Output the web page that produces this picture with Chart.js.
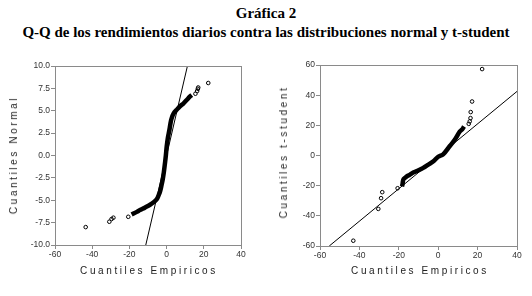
<!DOCTYPE html>
<html>
<head>
<meta charset="utf-8">
<script src="https://cdn.jsdelivr.net/npm/chart.js@4/dist/chart.umd.min.js"></script>
<style>
  html, body { margin: 0; padding: 0; background: #fff; }
  #wrap { position: relative; width: 532px; height: 296px; overflow: hidden; background: #fff; }
  canvas { position: absolute; top: 0; }
  .t { position: absolute; left: 0; width: 532px; text-align: center; font-family: "Liberation Serif", "Times New Roman", serif; font-weight: bold; color: #000; white-space: nowrap; line-height: 17px; }
  .ax { position: absolute; font-family: "Liberation Sans", Arial, sans-serif; font-size: 10px; letter-spacing: 2.6px; color: #222; white-space: nowrap; line-height: 12px; }
  .rot { transform: translate(-50%, -50%) rotate(-90deg); }
  .hor { transform: translate(-50%, -50%); }
</style>
</head>
<body>
<div id="wrap">
  <div class="t" style="top:5px;font-size:15px;">Gráfica 2</div>
  <div class="t" style="top:24px;font-size:15px;">Q-Q de los rendimientos diarios contra las distribuciones normal y t-student</div>
  <canvas id="c1" width="266" height="296" style="left:0"></canvas>
  <canvas id="c2" width="266" height="296" style="left:266px"></canvas>
  <div class="ax hor" style="left:149px;top:271px;">Cuantiles Empiricos</div>
  <div class="ax hor" style="left:420px;top:271px;">Cuantiles Empiricos</div>
  <div class="ax rot" style="left:14px;top:155px;">Cuantiles Normal</div>
  <div class="ax rot" style="left:284px;top:152px;">Cuantiles t-student</div>
</div>
<script>
// ---- Left panel: empirical quantiles vs normal quantiles ----
const normClusterX = [-18.8,-16.0,-14.3,-11.5,-8.9,-6.8,-5.3,-4.2,-3.5,-2.7,-2.1,-1.5,-0.9,-0.4,0.05,0.7,1.5,2.1,2.7,3.8,5.4,7.2,9.0,10.8,12.6,13.5];
const normClusterY = [-6.6,-6.3,-6.1,-5.8,-5.5,-5.2,-4.9,-4.4,-4.0,-3.3,-2.7,-1.9,-0.9,0.0,1.0,2.0,2.85,3.6,4.15,4.7,5.1,5.5,5.8,6.2,6.6,6.75];
const normOutX = [-43.5,-30.8,-29.6,-28.6,-20.6,15.5,16.4,16.8,17.0,22.4];
const normOutY = [-8.0,-7.4,-7.1,-6.95,-6.85,6.9,7.2,7.45,7.6,8.1];
const normRefX = [-11.2, 11.2];
const normRefY = [-10, 10];
const normYTicks = [-10, -7.5, -5, -2.5, 0, 2.5, 5, 7.5, 10];

// ---- Right panel: empirical quantiles vs t-student quantiles ----
const tClusterX = [-18.4,-18.1,-17.9,-17.5,-16.1,-14.5,-12.7,-10.0,-7.6,-5.0,-2.6,0.0,2.5,5.9,8.4,10.96,12.3,13.1];
const tClusterY = [-20.5,-19.0,-17.0,-15.5,-14.0,-12.8,-11.3,-9.8,-8.2,-6.0,-4.0,-0.8,0.8,6.3,10.4,15.9,17.5,19.2];
const tOutX = [-43.1,-30.4,-29.0,-28.4,-20.6,15.5,16.0,16.4,16.5,17.2,22.3];
const tOutY = [-56.5,-35.4,-28.3,-24.3,-21.7,21.0,22.6,24.8,28.8,35.8,57.3];
const tRefX = [-55.3, 40];
const tRefY = [-60, 42.5];
const tYTicks = [-60, -40, -20, 0, 20, 40, 60];

const xTicks = [-60, -40, -20, 0, 20, 40];

const pts = (xs, ys) => xs.map((x, i) => ({ x, y: ys[i] }));

const framePlugin = {
  id: 'frame',
  afterDraw(chart) {
    const a = chart.chartArea, ctx = chart.ctx;
    ctx.save();
    ctx.strokeStyle = '#8a8a8a';
    ctx.lineWidth = 1;
    ctx.strokeRect(Math.round(a.left) + 0.5, Math.round(a.top) + 0.5, Math.round(a.right - a.left), Math.round(a.bottom - a.top));
    ctx.restore();
  }
};

function makeChart(id, cx, cy, ox, oy, rx, ry, yMin, yMax, yTicks, yFmt, pad) {
  return new Chart(document.getElementById(id), {
    type: 'scatter',
    data: {
      datasets: [
        { data: pts(cx, cy), showLine: true, borderColor: '#000', borderWidth: 4.5, pointRadius: 0, tension: 0.4, fill: false, order: 2 },
        { data: pts(rx, ry), showLine: true, borderColor: '#000', borderWidth: 1, pointRadius: 0, fill: false, order: 1 },
        { data: pts(ox, oy), showLine: false, pointRadius: 1.8, pointBorderWidth: 1, pointBorderColor: '#000', pointBackgroundColor: 'rgba(255,255,255,0)', order: 0 }
      ]
    },
    options: {
      responsive: false,
      animation: false,
      events: [],
      layout: { padding: pad },
      plugins: { legend: { display: false }, tooltip: { enabled: false }, title: { display: false } },
      scales: {
        x: {
          type: 'linear', min: -60, max: 40,
          afterBuildTicks: s => { s.ticks = xTicks.map(v => ({ value: v })); },
          afterFit: s => { s.height = 18; },
          grid: { drawOnChartArea: false, drawTicks: true, tickLength: 4, color: '#8a8a8a' },
          border: { display: true, color: '#8a8a8a' },
          ticks: { padding: 1, color: '#333', font: { family: 'Liberation Sans, Arial, sans-serif', size: 8.5 }, maxRotation: 0, callback: v => String(v) }
        },
        y: {
          type: 'linear', min: yMin, max: yMax,
          afterBuildTicks: s => { s.ticks = yTicks.map(v => ({ value: v })); },
          afterFit: s => { s.width = 40; },
          grid: { drawOnChartArea: false, drawTicks: true, tickLength: 4, color: '#8a8a8a' },
          border: { display: true, color: '#8a8a8a' },
          ticks: { padding: 1, color: '#333', font: { family: 'Liberation Sans, Arial, sans-serif', size: 8.5 }, callback: yFmt }
        }
      }
    },
    plugins: [framePlugin]
  });
}

makeChart('c1', normClusterX, normClusterY, normOutX, normOutY, normRefX, normRefY, -10, 10, normYTicks,
  v => v.toFixed(1), { left: 15, right: 25, top: 66, bottom: 33 });
makeChart('c2', tClusterX, tClusterY, tOutX, tOutY, tRefX, tRefY, -60, 60, tYTicks,
  v => String(v), { left: 14, right: 15, top: 65, bottom: 32 });
</script>
</body>
</html>
